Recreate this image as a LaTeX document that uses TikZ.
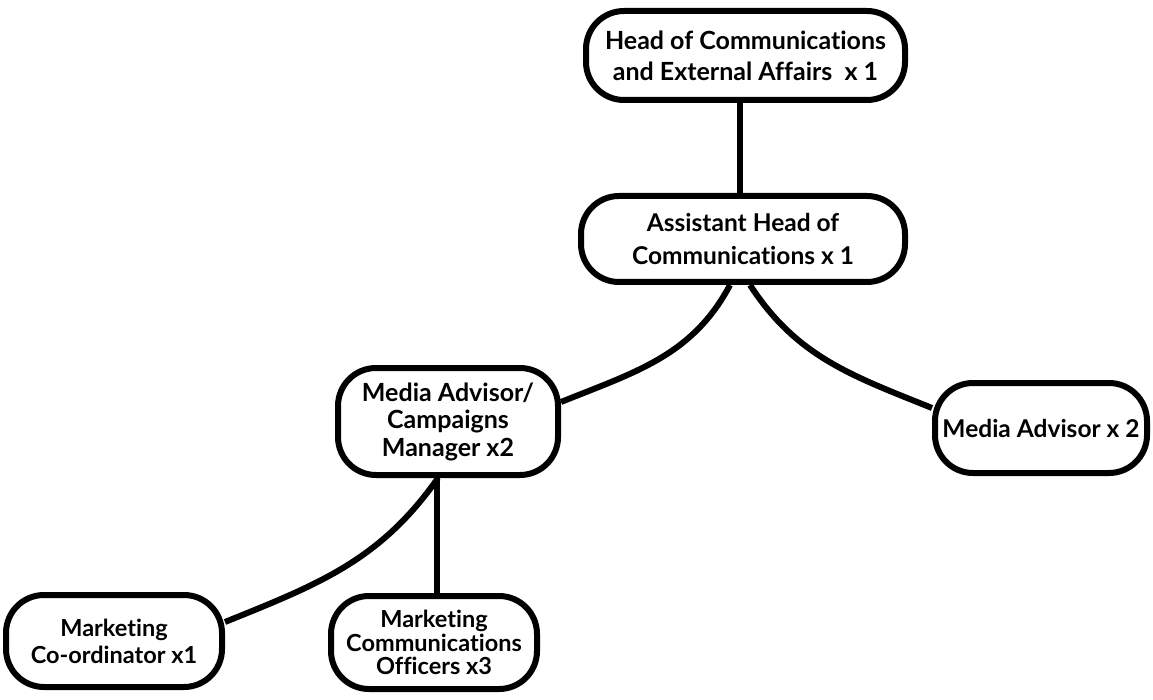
\documentclass[tikz,border=0pt]{standalone}
\usepackage{fontspec}
\setmainfont{Lato}[Ligatures=NoCommon]
\begin{document}
\begin{tikzpicture}[x=1pt,y=-1pt,
  box/.style={draw=black,line width=6pt,rounded corners=38pt,fill=white,align=center,
    inner sep=0pt},
  fs/.style 2 args={font=\fontsize{#1}{#2}\selectfont\bfseries},
  link/.style={line width=6pt,draw=black}]
\useasboundingbox (0,0) rectangle (1153,700);
\node[box,fs={25}{31},minimum width=319pt,minimum height=89pt] (b1) at (745.5,55.5) {Head of Communications\\and External Affairs\ \ x 1};
\node[box,fs={24.5}{33},minimum width=324pt,minimum height=86pt] (b2) at (743,239) {Assistant Head of\\Communications x 1};
\node[box,fs={25}{27.5},minimum width=220pt,minimum height=107pt] (b3) at (448,421.5) {Media Advisor/\\Campaigns\\Manager x2};
\node[box,fs={24.5}{30},minimum width=212pt,minimum height=90pt] (b4) at (1041,428) {Media Advisor x 2};
\node[box,fs={23.5}{27},minimum width=216pt,minimum height=92pt] (b5) at (114,641) {Marketing\\Co-ordinator x1};
\node[box,fs={23.5}{23.5},minimum width=206pt,minimum height=93pt] (b6) at (434,642.5) {Marketing\\Communications\\Officers x3};
\draw[link] ([xshift=-5.5pt]b1.south) -- ([xshift=-3pt]b2.north);
\draw[link] ([xshift=-13pt]b2.south) to[out=-118,in=22] ([yshift=19.5pt]b3.east);
\draw[link] ([xshift=7pt]b2.south) to[out=-57,in=158] ([yshift=20pt]b4.west);
\draw[link] ([xshift=-10pt]b3.south) to[out=-125,in=22] ([yshift=19pt]b5.east);
\draw[link] ([xshift=-11pt]b3.south) -- ([xshift=3pt]b6.north);
\end{tikzpicture}
\end{document}
